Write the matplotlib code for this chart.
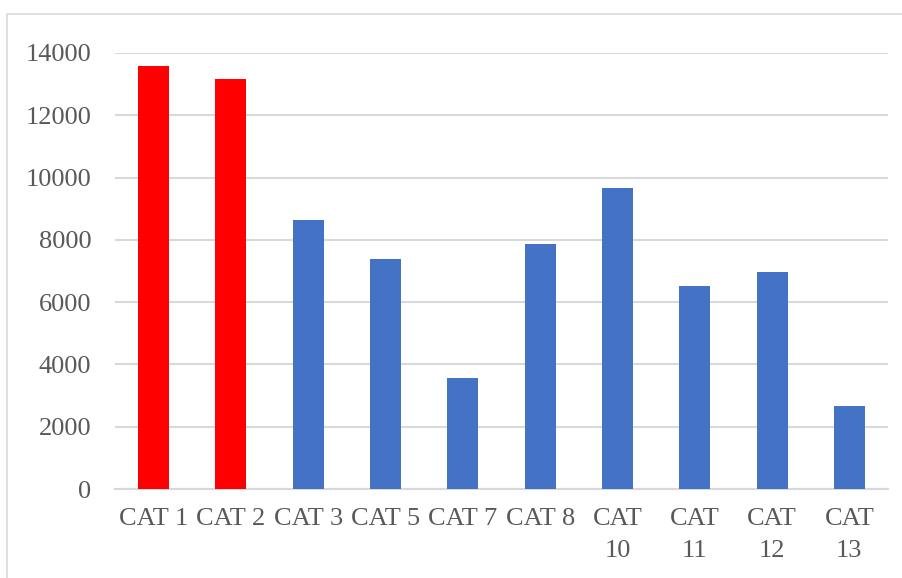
import numpy as np
import matplotlib.pyplot as plt
from matplotlib.patches import Rectangle

# Category totals
categories = ['CAT 1', 'CAT 2', 'CAT 3', 'CAT 5', 'CAT 7', 'CAT 8',
              'CAT\n10', 'CAT\n11', 'CAT\n12', 'CAT\n13']
values = [13590, 13170, 8640, 7390, 3570, 7880, 9680, 6530, 6970, 2670]
highlight = [True, True, False, False, False, False, False, False, False, False]

RED = '#FF0000'
BLUE = '#4472C4'
GRID = '#D9D9D9'
TEXT = '#595959'

plt.rcParams['font.family'] = ['Liberation Serif', 'DejaVu Serif']

fig = plt.figure(figsize=(9.03, 5.78), dpi=100)
fig.patch.set_facecolor('white')

# chart frame
fig.patches.append(Rectangle((7 / 903, -0.1), 1.1, 1 - 14 / 578 + 0.1,
                             transform=fig.transFigure, fill=False,
                             edgecolor=GRID, linewidth=1.2))

ax = fig.add_axes([115 / 903, 1 - 489 / 578, (888 - 115) / 903, (489 - 53) / 578])

x = np.arange(len(categories))
colors = [RED if h else BLUE for h in highlight]
ax.bar(x, values, width=0.4, color=colors, zorder=3)

ax.set_xlim(-0.5, len(categories) - 0.5)
ax.set_ylim(0, 14000)
ax.set_yticks(np.arange(0, 14001, 2000))
ax.yaxis.grid(True, color=GRID, linewidth=1.5, zorder=0)
ax.set_axisbelow(True)

for s in ['top', 'right', 'left']:
    ax.spines[s].set_visible(False)
ax.spines['bottom'].set_color(GRID)
ax.spines['bottom'].set_linewidth(1.5)

ax.set_xticks(x)
ax.set_xticklabels(categories, linespacing=1.55)
ax.tick_params(axis='both', length=0, labelsize=19, colors=TEXT)
ax.tick_params(axis='y', pad=17)
ax.tick_params(axis='x', pad=14)

fig.savefig('out.png', dpi=100)
